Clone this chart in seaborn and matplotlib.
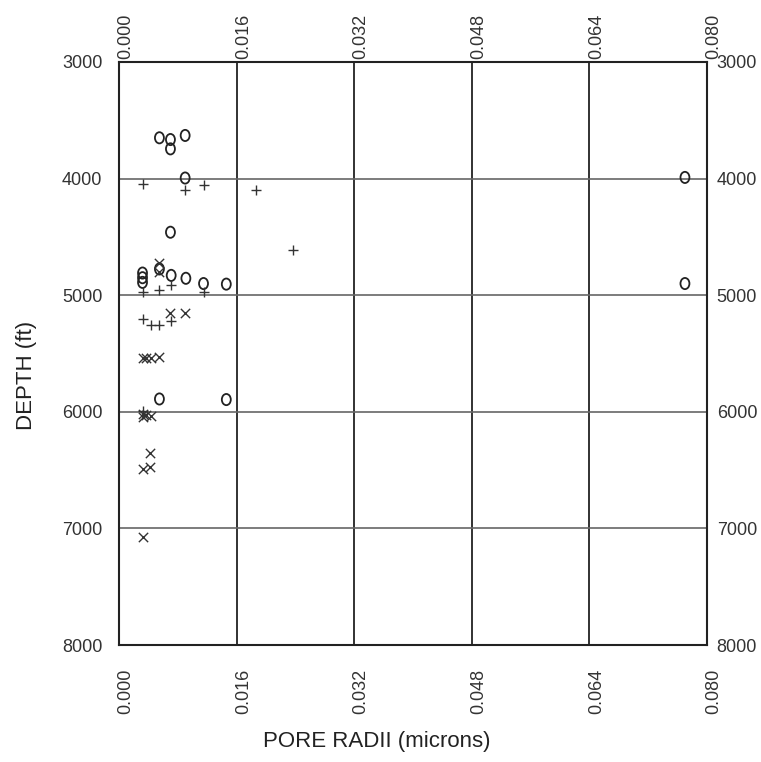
import matplotlib
matplotlib.use("Agg")
import matplotlib.pyplot as plt
from matplotlib.path import Path
from matplotlib.transforms import Affine2D, ScaledTranslation
import seaborn as sns
import pandas as pd

# ---- data ----
o_radius = [0.0055, 0.0070, 0.0070, 0.0090, 0.0090, 0.0070, 0.0032, 0.0032, 0.0032,
            0.0071, 0.0091, 0.0115, 0.0146, 0.0055, 0.0055, 0.0146, 0.0770, 0.0770]
o_depth = [3650, 3665, 3745, 3630, 3995, 4460, 4810, 4850, 4890,
           4830, 4855, 4900, 4905, 4775, 5890, 5895, 3990, 4900]

plus_radius = [0.0032, 0.0090, 0.0115, 0.0187, 0.0237, 0.0032, 0.0055, 0.0071, 0.0115,
               0.0032, 0.0043, 0.0055, 0.0071, 0.0032]
plus_depth = [4045, 4100, 4055, 4095, 4610, 4970, 4955, 4910, 4975,
              5205, 5255, 5255, 5225, 5990]

x_radius = [0.0055, 0.0055, 0.0070, 0.0090, 0.0032, 0.0037, 0.0043, 0.0054,
            0.0032, 0.0032, 0.0037, 0.0043, 0.0042, 0.0032, 0.0042, 0.0032]
x_depth = [4725, 4805, 5150, 5150, 5540, 5540, 5540, 5527,
           6015, 6045, 6027, 6035, 6355, 6490, 6475, 7075]

x_ticks = [0.000, 0.016, 0.032, 0.048, 0.064, 0.080]
y_ticks = [3000, 4000, 5000, 6000, 7000, 8000]

df = pd.concat([
    pd.DataFrame({"radius": o_radius, "depth": o_depth, "kind": "o"}),
    pd.DataFrame({"radius": plus_radius, "depth": plus_depth, "kind": "+"}),
    pd.DataFrame({"radius": x_radius, "depth": x_depth, "kind": "x"}),
], ignore_index=True)

sns.set_style("white")
plt.rcParams["font.family"] = ["Liberation Sans", "DejaVu Sans"]

W, H = 761, 762
L, R, T, B = 119, 707, 62, 645
fig = plt.figure(figsize=(W / 100, H / 100), dpi=100)
ax = fig.add_axes([L / W, 1 - B / H, (R - L) / W, (B - T) / H])

# grid lines
for xv in x_ticks[1:-1]:
    ax.axvline(xv, color="#222222", lw=1.3, zorder=1)
for yv in y_ticks[1:-1]:
    ax.axhline(yv, color="#666666", lw=1.2, zorder=1)

ellipse = Path.unit_circle().transformed(Affine2D().scale(0.8, 1.0))

sub_o = df[df.kind == "o"]
sub_p = df[df.kind == "+"]
sub_x = df[df.kind == "x"]
sns.scatterplot(data=sub_o, x="radius", y="depth", ax=ax, marker=ellipse, s=65,
                facecolors="none", edgecolor="#222222", linewidth=1.3, legend=False, zorder=3)
sns.scatterplot(data=sub_p, x="radius", y="depth", ax=ax, marker="+", s=60,
                color="#333333", linewidth=1.0, legend=False, zorder=3)
sns.scatterplot(data=sub_x, x="radius", y="depth", ax=ax, marker="x", s=45,
                color="#333333", linewidth=1.0, legend=False, zorder=3)

ax.set_xlim(0, 0.080)
ax.set_ylim(8000, 3000)
ax.set_xticks(x_ticks)
ax.set_yticks(y_ticks)
ax.set_xticklabels([f"{v:.3f}" for v in x_ticks], rotation=90)
ax.set_yticklabels([str(v) for v in y_ticks])

ax.tick_params(axis="x", which="both", length=0, labelsize=13, colors="#333333",
               top=True, labeltop=True, bottom=True, labelbottom=True)
ax.tick_params(axis="y", which="both", length=0, labelsize=13, colors="#333333",
               left=True, labelleft=True, right=True, labelright=True, pad=7)

for sp in ax.spines.values():
    sp.set_visible(True)
    sp.set_color("#222222")
    sp.set_linewidth(1.5)

ax.set_xlabel("PORE RADII (microns)", fontsize=16, color="#222222")
ax.set_ylabel("DEPTH (ft)", fontsize=16, color="#222222")
ax.xaxis.set_label_coords((377 - L) / (R - L), (B - 731) / (B - T))
ax.yaxis.set_label_coords((37 - L) / (R - L), (B - 375) / (B - T))

# fine positioning of tick labels
px = lambda dx, dy: ScaledTranslation(dx / 100, dy / 100, fig.dpi_scale_trans)
for tk in ax.xaxis.get_major_ticks():
    tk.label1.set_transform(tk.label1.get_transform() + px(7, -19))
    tk.label2.set_transform(tk.label2.get_transform() + px(7, -2))
for tk in ax.yaxis.get_major_ticks():
    tk.label1.set_transform(tk.label1.get_transform() + px(-7, 0))
    tk.label2.set_transform(tk.label2.get_transform() + px(0, 0))

fig.savefig("out.png", dpi=100)
